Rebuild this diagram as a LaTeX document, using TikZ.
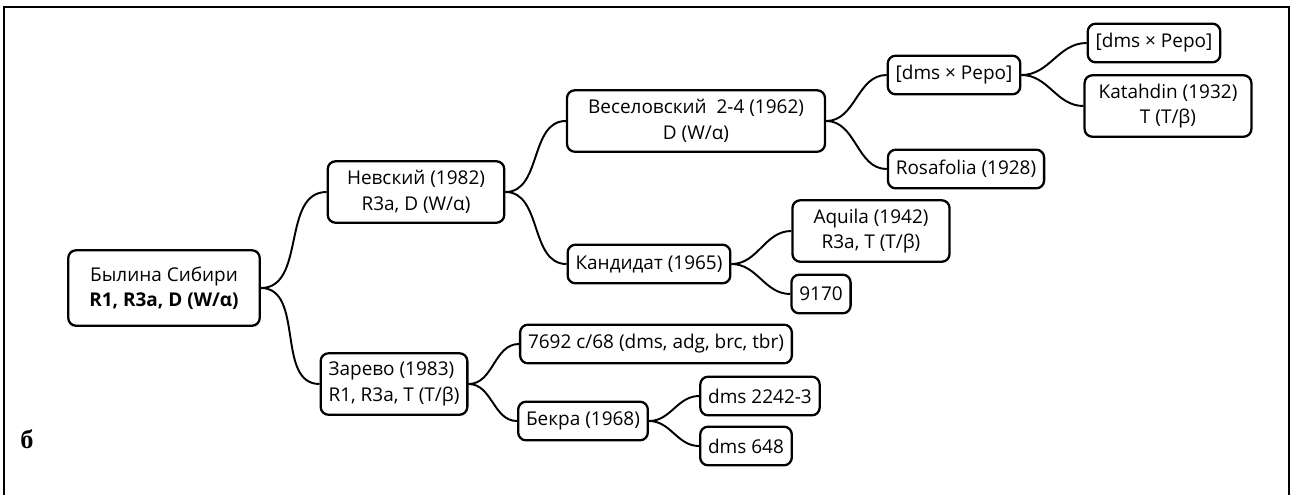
\documentclass[tikz,border=0pt]{standalone}
\usepackage{fontspec}
\setmainfont{Open Sans}
\newfontfamily\labelfont{Liberation Serif}
\usepackage{tikz}

\begin{document}
\begin{tikzpicture}[x=0.02cm,y=-0.02cm,line width=1.1pt]
    \tikzstyle{box}=[draw=black,line width=1.3pt,rounded corners=4.5pt,fill=white,align=center,
                     font=\fontsize{10.8}{14.5}\selectfont,inner xsep=4.5pt,inner ysep=4pt,minimum height=22pt]
    \tikzstyle{tall}=[minimum height=35pt,inner xsep=11pt]
    \useasboundingbox (0,0) rectangle (1296,495);

    % frame of the cell
    \draw[line width=0.8pt] (4,7) -- (1289,7);
    \draw[line width=1.4pt] (4,6) -- (4,495);
    \draw[line width=1.6pt] (1289,6) -- (1289,495);
    \node (lbl) at (27,439) {\labelfont\bfseries\fontsize{15}{15}\selectfont б};

    % nodes
    \node[box,minimum height=43pt,inner xsep=12pt] (root) at (164,288) {Былина Сибири\\\textbf{R1, R3a, D (W/α)}};
    \node[box,tall] (nevsky) at (416,192) {Невский (1982)\\R3a, D (W/α)};
    \node[box,tall,inner xsep=4.5pt,align=left] (zarevo) at (394,384) {Зарево (1983)\\R1, R3a, T (T/β)};
    \node[box,tall,inner xsep=12pt] (veselov) at (696,121) {Веселовский\ \ 2-4 (1962)\\D (W/α)};
    \node[box] (kandidat) at (649,264) {Кандидат (1965)};
    \node[box] (pepoA) at (954,75) {[dms × Pepo]};
    \node[box] (rosa) at (966,169) {Rosafolia (1928)};
    \node[box] (pepoB) at (1154,43) {[dms × Pepo]};
    \node[box,tall,inner xsep=8pt] (katahdin) at (1168,106) {Katahdin (1932)\\T (T/β)};
    \node[box,tall,inner xsep=12pt] (aquila) at (871,231) {Aquila (1942)\\R3a, T (T/β)};
    \node[box] (n9170) at (821,294) {9170};
    \node[box] (c7692) at (656,344) {7692 c/68 (dms, adg, brc, tbr)};
    \node[box] (bekra) at (583,421) {Бекра (1968)};
    \node[box] (d2242) at (760,396) {dms 2242-3};
    \node[box] (d648) at (746,446) {dms 648};

    % branches
    \foreach \from/\to in {root/nevsky, root/zarevo, nevsky/veselov, nevsky/kandidat,
                           veselov/pepoA, veselov/rosa, pepoA/pepoB, pepoA/katahdin,
                           kandidat/aquila, kandidat/n9170, zarevo/c7692, zarevo/bekra,
                           bekra/d2242, bekra/d648}
        \draw (\from.east) to[out=0,in=180] (\to.west);
\end{tikzpicture}
\end{document}
